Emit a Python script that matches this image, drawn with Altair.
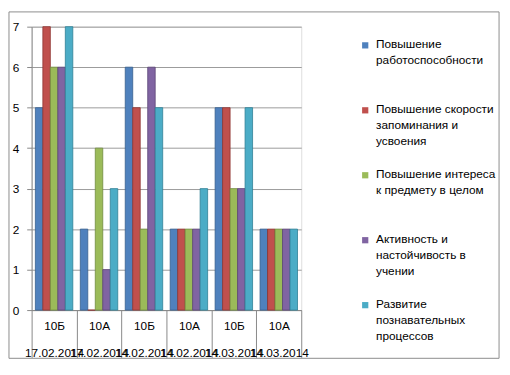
import altair as alt
import pandas as pd

classes = ["10Б", "10А", "10Б", "10А", "10Б", "10А"]
dates = ["17.02.2014", "17.02.2014", "14.02.2014", "14.02.2014", "14.03.2014", "14.03.2014"]
series = [
    "Повышение работоспособности",
    "Повышение скорости запоминания и усвоения",
    "Повышение интереса к предмету в целом",
    "Активность и настойчивость в учении",
    "Развитие познавательных процессов",
]
legend_lines = [
    ["Повышение", "работоспособности"],
    ["Повышение скорости", "запоминания и", "усвоения"],
    ["Повышение интереса", "к предмету в целом"],
    ["Активность и", "настойчивость в", "учении"],
    ["Развитие", "познавательных", "процессов"],
]
s_work = [5, 2, 6, 2, 5, 2]
s_speed = [7, 0, 5, 2, 5, 2]
s_interest = [6, 4, 2, 2, 3, 2]
s_activity = [6, 1, 6, 2, 3, 2]
s_cognitive = [7, 3, 5, 3, 5, 2]
colors = ["#4F81BD", "#C0504D", "#9BBB59", "#8064A2", "#4BACC6"]
edge_colors = ["#35608F", "#8E3432", "#6F8A3C", "#5A4576", "#2E7F95"]

cats = [c + "|" + d for c, d in zip(classes, dates)]
rows = []
for name, vals in zip(series, [s_work, s_speed, s_interest, s_activity, s_cognitive]):
    for cat, v in zip(cats, vals):
        rows.append({"cat": cat, "series": name, "value": v})
df = pd.DataFrame(rows)

FONT = "Liberation Sans"

lookup = "{" + ", ".join(
    "'" + s + "': [" + ", ".join("'" + l + "'" for l in lines) + "]"
    for s, lines in zip(series, legend_lines)
) + "}[datum.label]"

bars = alt.Chart(df).mark_bar(strokeWidth=0.8).encode(
    x=alt.X(
        "cat:N",
        sort=cats,
        scale=alt.Scale(paddingInner=0, paddingOuter=0),
        axis=alt.Axis(
            title=None,
            labelExpr="split(datum.label, '|')",
            tickBand="extent",
            tickSize=48,
            labelPadding=-31,
            labelBaseline="top",
            labelLineHeight=27,
            labelOverlap=False,
            labelAngle=0,
            labelLimit=200,
            labelFont=FONT,
            labelFontSize=12,
            labelColor="#000000",
            domainColor="#888888",
            tickColor="#888888",
            grid=False,
        ),
    ),
    xOffset=alt.XOffset(
        "series:N", sort=series,
        scale=alt.Scale(paddingOuter=0.5, paddingInner=0),
    ),
    y=alt.Y(
        "value:Q",
        scale=alt.Scale(domain=[0, 7]),
        axis=alt.Axis(
            title=None,
            values=[0, 1, 2, 3, 4, 5, 6, 7],
            grid=True,
            gridColor="#9a9a9a",
            tickSize=5,
            tickColor="#888888",
            domainColor="#888888",
            labelPadding=8,
            labelOffset=6,
            labelFont=FONT,
            labelFontSize=12,
            labelColor="#000000",
        ),
    ),
    color=alt.Color(
        "series:N",
        sort=series,
        scale=alt.Scale(domain=series, range=colors),
        legend=alt.Legend(
            title=None,
            orient="none",
            legendX=333,
            legendY=13,
            symbolType="square",
            symbolSize=40,
            symbolStrokeWidth=0,
            labelExpr=lookup,
            gridAlign="all",
            rowPadding=22,
            labelBaseline="top",
            labelFont=FONT,
            labelFontSize=12,
            labelColor="#000000",
            labelLimit=200,
            labelOffset=5,
        ),
    ),
    stroke=alt.Stroke(
        "series:N", sort=series,
        scale=alt.Scale(domain=series, range=edge_colors),
        legend=None,
    ),
)

frame = alt.Chart(pd.DataFrame({"k": [0]})).mark_rect(
    fillOpacity=0, stroke="#8c8c8c", strokeWidth=1
).encode(
    x=alt.value(-23), x2=alt.value(475), y=alt.value(-15), y2=alt.value(337)
)

chart = alt.layer(frame, bars).properties(
    width=274, height=288,
    autosize=alt.AutoSizeParams(type="none"),
    padding={"left": 24, "top": 16, "right": 204, "bottom": 63},
).configure_view(strokeWidth=0).configure(
    style={"guide-label": {"lineHeight": 16, "dy": -6}}
)

chart.save("out.html", embed_options={"renderer": "svg", "actions": False})
